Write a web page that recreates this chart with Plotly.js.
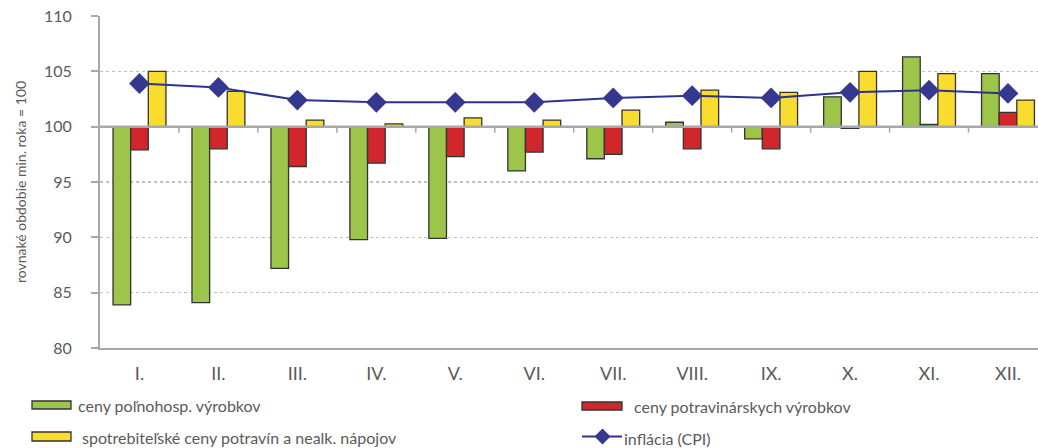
<!DOCTYPE html>
<html><head><meta charset="utf-8">
<script src="https://cdn.plot.ly/plotly-3.0.1.min.js"></script>
<style>html,body{margin:0;padding:0;background:#fff}#chart{width:1038px;height:448px}</style>
</head><body><div id="chart"></div>
<script>
const months = ['I.','II.','III.','IV.','V.','VI.','VII.','VIII.','IX.','X.','XI.','XII.'];
const agriPrices = [83.9, 84.1, 87.2, 89.8, 89.9, 96.0, 97.1, 100.4, 98.9, 102.7, 106.3, 104.8];
const foodPrices = [97.9, 98.0, 96.4, 96.7, 97.3, 97.7, 97.5, 98.0, 98.0, 99.85, 100.2, 101.3];
const consumerPrices = [105.0, 103.2, 100.6, 100.25, 100.8, 100.6, 101.5, 103.3, 103.1, 105.0, 104.8, 102.4];
const cpi = [103.9, 103.55, 102.4, 102.2, 102.2, 102.2, 102.6, 102.8, 102.6, 103.1, 103.3, 103.0];
const baseValue = 100;
const yTicks = [80, 85, 90, 95, 100, 105, 110];
const labels = {
  agri: 'ceny poľnohosp. výrobkov',
  food: 'ceny potravinárskych výrobkov',
  consumer: 'spotrebiteľské ceny potravín a nealk. nápojov',
  cpi: 'inflácia (CPI)',
  yTitle: 'rovnaké obdobie min. roka = 100'
};

const FONT = 'Lato, "Open Sans", sans-serif';
const TXT = '#5a5a5a';
const GREEN = '#9dc54a', RED = '#d1262c', YELLOW = '#f8dc2e', NAVY = '#2e3192';
const OUT = '#333333';

// plot area geometry (pixels)
const W = 1038, H = 448, L = 100, T = 16, B = 100, R = 0;
const pw = W - L - R, ph = H - T - B;
const px = x => (x - L) / pw;
const py = y => (H - B - y) / ph;

function barTrace(vals, color, name) {
  return {
    type: 'bar', x: months, y: vals.map(v => v - baseValue), base: baseValue,
    name: name, showlegend: false,
    marker: { color: color, line: { color: OUT, width: 1.3 } },
    hovertemplate: '%{x}: %{customdata}<extra>' + name + '</extra>', customdata: vals
  };
}

const traces = [
  barTrace(agriPrices, GREEN, labels.agri),
  barTrace(foodPrices, RED, labels.food),
  barTrace(consumerPrices, YELLOW, labels.consumer),
  {
    type: 'scatter', mode: 'lines+markers', x: months, y: cpi, name: labels.cpi,
    showlegend: false,
    line: { color: NAVY, width: 2 },
    marker: { symbol: 'diamond', size: 16, color: '#35388f' }
  }
];

const shapes = [
  { type: 'line', xref: 'paper', yref: 'y', x0: 0, x1: 1, y0: baseValue, y1: baseValue,
    line: { color: '#a8a8a8', width: 2.5 }, layer: 'above' }
];
for (let i = 0; i < months.length - 1; i++) {
  shapes.push({ type: 'line', xref: 'x', yref: 'y', ysizemode: 'pixel', yanchor: baseValue,
    x0: i + 0.5, x1: i + 0.5, y0: 0, y1: -6, line: { color: '#a8a8a8', width: 1.5 }, layer: 'above' });
}
// legend swatches
function swatch(x0, y0, x1, y1, color) {
  shapes.push({ type: 'rect', xref: 'paper', yref: 'paper', x0: px(x0), x1: px(x1), y0: py(y1), y1: py(y0),
    fillcolor: color, line: { color: OUT, width: 1.3 } });
}
swatch(32, 401, 71, 409, GREEN);
swatch(582, 402, 622, 410, RED);
swatch(32, 432, 71, 441, YELLOW);
shapes.push({ type: 'line', xref: 'paper', yref: 'paper', x0: px(582), x1: px(622), y0: py(436.5), y1: py(436.5),
  line: { color: NAVY, width: 2 } });
shapes.push({ type: 'path', xref: 'paper', yref: 'paper', xsizemode: 'pixel', ysizemode: 'pixel',
  xanchor: px(602.5), yanchor: py(436.5), path: 'M0,8 L8,0 L0,-8 L-8,0 Z',
  fillcolor: '#35388f', line: { width: 0 } });

const annotations = [];
function legText(x, y, text) {
  annotations.push({ xref: 'paper', yref: 'paper', x: px(x), y: py(y), text: text, showarrow: false,
    xanchor: 'left', yanchor: 'middle', font: { family: FONT, size: 16, color: TXT } });
}
legText(76, 405, labels.agri);
legText(632, 406, labels.food);
legText(80, 437, labels.consumer);
legText(622, 438, labels.cpi);

const layout = {
  width: W, height: H,
  margin: { l: L, r: R, t: T, b: B, pad: 0 },
  paper_bgcolor: '#fff', plot_bgcolor: '#fff',
  font: { family: FONT, color: TXT },
  barmode: 'group', bargap: 0.33, bargroupgap: 0,
  showlegend: false,
  xaxis: {
    type: 'category', range: [-0.5, 11.38], showgrid: false, zeroline: false,
    showline: true, linecolor: '#a8a8a8', linewidth: 2, ticks: '',
    tickfont: { family: FONT, size: 18, color: TXT }, ticklabelstandoff: 8, fixedrange: true
  },
  yaxis: {
    range: [80, 110], tickvals: yTicks, zeroline: false,
    showgrid: true, gridcolor: '#c0c0c0', gridwidth: 1.3, griddash: 'dot',
    showline: true, linecolor: '#a8a8a8', linewidth: 2,
    ticks: 'outside', ticklen: 7, tickwidth: 2, tickcolor: '#a8a8a8',
    tickfont: { family: FONT, size: 16, color: TXT }, ticklabelstandoff: 16,
    title: { text: labels.yTitle, font: { family: FONT, size: 14, color: TXT }, standoff: 14 },
    automargin: false, fixedrange: true
  },
  shapes: shapes,
  annotations: annotations
};

Plotly.newPlot('chart', traces, layout, { displayModeBar: false, staticPlot: true });
</script>
</body></html>
